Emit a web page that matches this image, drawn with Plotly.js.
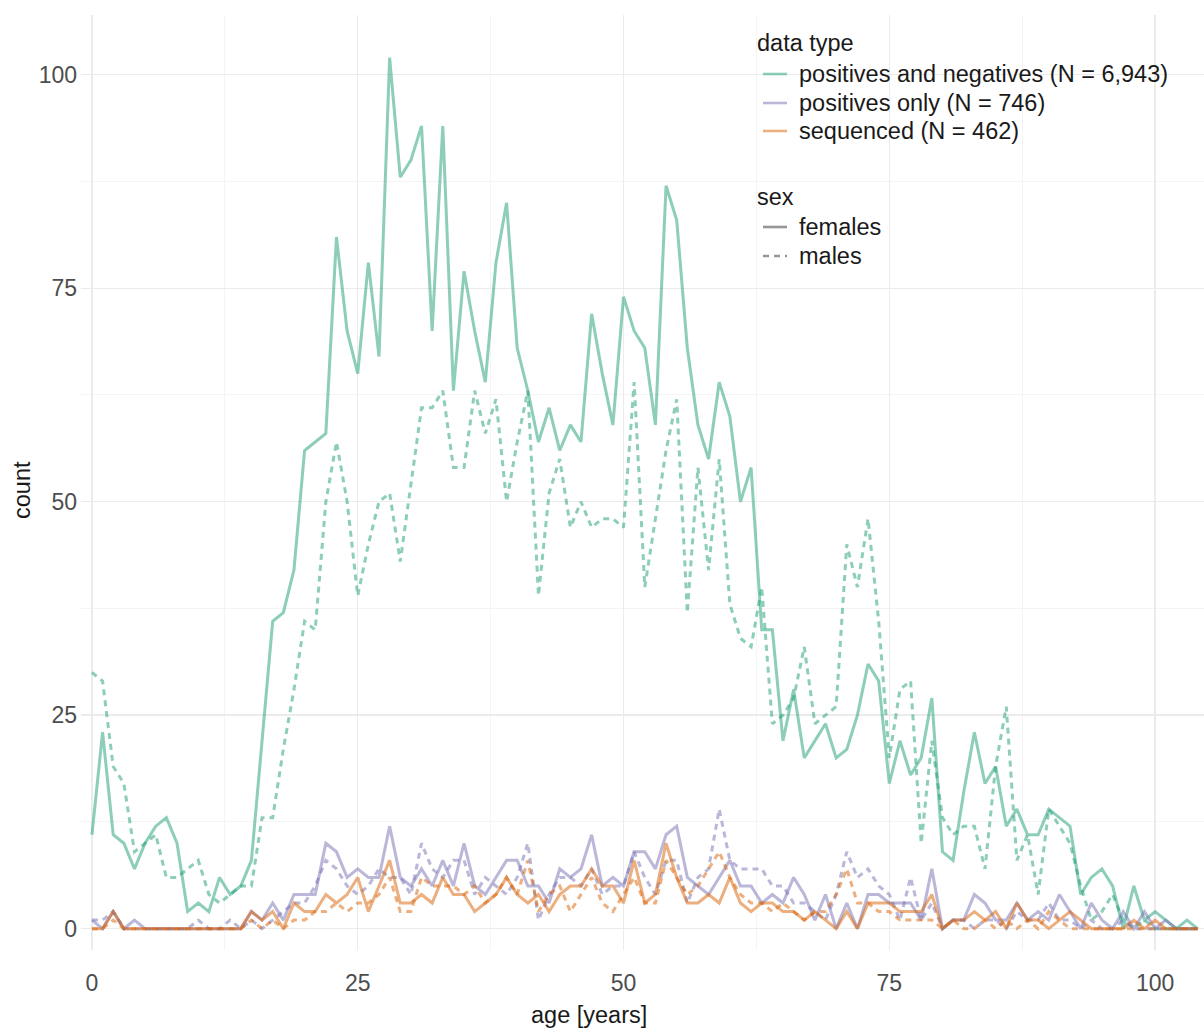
<!DOCTYPE html>
<html>
<head>
<meta charset="utf-8">
<script src="https://cdn.plot.ly/plotly-3.0.1.min.js"></script>
<style>
  html, body { margin: 0; padding: 0; background: #ffffff; }
  #chart { width: 1204px; height: 1030px; }
</style>
</head>
<body>
<div id="chart"></div>
<script>
// Age in years (x axis)
const ages = [0,1,2,3,4,5,6,7,8,9,10,11,12,13,14,15,16,17,18,19,20,21,22,23,24,25,26,27,28,29,30,31,32,33,34,35,36,37,38,39,40,41,42,43,44,45,46,47,48,49,50,51,52,53,54,55,56,57,58,59,60,61,62,63,64,65,66,67,68,69,70,71,72,73,74,75,76,77,78,79,80,81,82,83,84,85,86,87,88,89,90,91,92,93,94,95,96,97,98,99,100,101,102,103,104];

// Counts per age: positives and negatives
const posNegFemales = [11,23,11,10,7,10,12,13,10,2,3,2,6,4,5,8,22,36,37,42,56,57,58,81,70,65,78,67,102,88,90,94,70,94,63,77,70,64,78,85,68,63,57,61,56,59,57,72,65,59,74,70,68,59,87,83,68,59,55,64,60,50,54,35,35,22,28,20,22,24,20,21,25,31,29,17,22,18,20,27,9,8,16,23,17,19,12,14,11,11,14,13,12,4,6,7,5,0,5,1,2,1,0,1,0];
const posNegMales = [30,29,19,17,9,10,11,6,6,7,8,4,3,4,5,5,13,13,21,28,36,35,50,57,50,39,45,50,51,43,52,61,61,63,54,54,63,58,62,50,57,63,39,51,55,47,50,47,48,48,47,64,40,48,56,62,37,54,42,55,38,34,33,40,24,25,27,33,24,25,26,45,40,48,36,20,28,29,10,22,13,11,12,12,7,19,26,8,11,4,14,12,10,5,1,2,4,1,0,1,0,0,0,0,0];

// Counts per age: positives only
const posOnlyFemales = [1,0,2,0,1,0,0,0,0,0,0,0,0,0,0,2,1,3,1,4,4,4,10,9,6,7,6,6,12,6,5,7,5,8,5,10,5,4,6,8,8,5,5,3,7,6,7,11,5,6,5,9,9,7,11,12,6,5,4,6,8,5,5,3,4,3,6,4,1,4,0,3,0,4,4,3,3,3,1,7,0,1,1,4,3,1,1,3,1,2,1,4,2,0,3,1,0,2,0,2,0,1,0,0,0];
const posOnlyMales = [1,1,2,0,0,0,0,0,0,0,1,0,0,1,0,1,0,1,2,3,3,5,8,7,5,4,5,7,6,6,4,10,7,6,8,8,4,6,5,4,6,10,1,4,6,6,5,7,4,5,5,9,6,4,8,8,3,6,7,14,8,7,7,7,5,5,3,3,2,1,4,9,6,7,5,4,1,6,1,3,0,1,1,0,1,1,0,2,1,1,3,1,1,0,1,0,0,1,0,0,0,0,0,0,0];

// Counts per age: sequenced
const seqFemales = [0,0,2,0,0,0,0,0,0,0,0,0,0,0,0,2,1,2,0,3,2,2,4,3,4,6,2,5,8,3,3,4,3,6,4,4,2,3,4,6,4,3,4,2,4,5,5,7,5,5,3,8,3,4,10,6,3,3,4,3,6,3,2,3,3,2,2,1,2,1,0,2,0,3,3,3,2,2,2,4,0,1,1,2,1,2,0,3,1,1,0,1,2,1,0,0,0,0,1,0,1,0,0,0,0];
const seqMales = [0,0,1,0,0,0,0,0,0,0,0,0,0,0,0,1,0,1,0,1,1,2,2,3,2,3,3,4,6,2,2,6,5,5,5,4,5,3,4,6,4,8,2,4,5,2,4,6,3,2,4,6,3,3,8,6,4,5,7,9,6,4,3,3,2,3,2,1,2,2,4,7,3,3,2,2,1,1,1,1,0,1,0,0,1,0,1,0,1,0,2,1,0,0,0,0,0,0,0,0,0,0,0,0,0];

const dataTypes = [
  'positives and negatives (N = 6,943)',
  'positives only (N = 746)',
  'sequenced (N = 462)'
];
const sexLabels = ['females', 'males'];

// Dark2 palette at half opacity
const palette = ['rgba(27,158,119,0.5)', 'rgba(117,112,179,0.5)', 'rgba(217,95,2,0.5)'];
const dashMales = '6px,5px';
const lineW = 3;

const seriesList = [
  {y: posNegFemales, c: 0, dash: 'solid'},
  {y: posNegMales,   c: 0, dash: dashMales},
  {y: posOnlyFemales, c: 1, dash: 'solid'},
  {y: posOnlyMales,   c: 1, dash: dashMales},
  {y: seqFemales, c: 2, dash: 'solid'},
  {y: seqMales,   c: 2, dash: dashMales}
];

const traces = seriesList.map(s => ({
  type: 'scatter',
  mode: 'lines',
  x: ages,
  y: s.y,
  line: {color: palette[s.c], width: lineW, dash: s.dash},
  showlegend: false,
  hoverinfo: 'x+y'
}));

// Plot frame in pixels (for placing the hand-built legend and titles)
const W = 1204, H = 1030;
const M = {l: 81, r: 0, t: 15, b: 80};
const px = v => (v - M.l) / (W - M.l - M.r);
const py = v => (H - M.b - v) / (H - M.t - M.b);

const FONT = 'Liberation Sans, Arial, Helvetica, sans-serif';
const legendFont = {family: FONT, size: 23.5, color: '#1a1a1a'};
const titleFont = {family: FONT, size: 23.5, color: '#1a1a1a'};

const shapes = [
  {type: 'rect', xref: 'paper', yref: 'paper', layer: 'between',
   x0: px(726), x1: px(1198), y0: py(282), y1: py(20),
   fillcolor: '#ffffff', line: {width: 0}}
];
const annotations = [];

function legendText(text, x, y) {
  annotations.push({xref: 'paper', yref: 'paper', x: px(x), y: py(y),
    xanchor: 'left', yanchor: 'middle', text: text, showarrow: false,
    font: legendFont});
}

legendText('data type', 755, 43);
const typeRows = [74, 103, 131];
dataTypes.forEach((t, i) => {
  shapes.push({type: 'line', xref: 'paper', yref: 'paper',
    x0: px(763), x1: px(787), y0: py(typeRows[i]), y1: py(typeRows[i]),
    line: {color: palette[i], width: 2.6}});
  legendText(t, 797, typeRows[i]);
});

legendText('sex', 755, 197);
const sexRows = [227, 256];
sexLabels.forEach((t, i) => {
  shapes.push({type: 'line', xref: 'paper', yref: 'paper',
    x0: px(763), x1: px(787), y0: py(sexRows[i]), y1: py(sexRows[i]),
    line: {color: 'rgba(80,80,80,0.6)', width: 2.6, dash: i === 0 ? 'solid' : '6px,5px'}});
  legendText(t, 797, sexRows[i]);
});

// Axis titles
annotations.push({xref: 'paper', yref: 'paper', x: px(589), y: py(1015),
  xanchor: 'center', yanchor: 'middle', text: 'age [years]', showarrow: false, font: titleFont});
annotations.push({xref: 'paper', yref: 'paper', x: px(22), y: py(490),
  xanchor: 'center', yanchor: 'middle', text: 'count', textangle: -90, showarrow: false, font: titleFont});

const axisCommon = {
  tickvals: [0, 25, 50, 75, 100],
  showgrid: true,
  gridcolor: '#ebebeb',
  gridwidth: 1.4,
  minor: {dtick: 12.5, tick0: 0, showgrid: true, gridcolor: '#f4f4f4', gridwidth: 1},
  zeroline: false,
  showline: false,
  ticks: '',
  tickfont: {family: FONT, size: 23, color: '#4d4d4d'}
};

const layout = {
  width: W, height: H,
  margin: M,
  paper_bgcolor: '#ffffff',
  plot_bgcolor: '#ffffff',
  showlegend: false,
  xaxis: Object.assign({}, axisCommon, {
    range: [-1.03, 104.6],
    ticklabelstandoff: 17
  }),
  yaxis: Object.assign({}, axisCommon, {
    range: [-2.5, 107],
    ticklabelstandoff: 3
  }),
  shapes: shapes,
  annotations: annotations
};

Plotly.newPlot('chart', traces, layout, {displayModeBar: false, staticPlot: true});
</script>
</body>
</html>
